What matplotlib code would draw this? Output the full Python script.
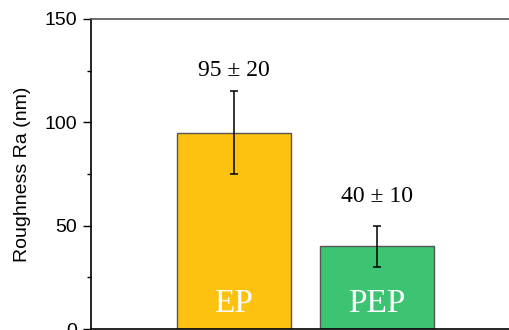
import numpy as np
import matplotlib.pyplot as plt

# data
samples = ['EP', 'PEP']
roughness = [95, 40]
roughness_err = [20, 10]
bar_colors = ['#FDC210', '#3CC473']

plt.rcParams['font.family'] = ['Liberation Sans', 'DejaVu Sans']

fig = plt.figure(figsize=(5.1, 3.3), dpi=100)
# axes runs slightly past the right and bottom edges like the cropped original
ax = fig.add_axes([91 / 510, 1 / 330, 429 / 510, 310 / 330])

x = np.arange(1, len(samples) + 1)
ax.bar(x, roughness, width=0.8, color=bar_colors, edgecolor='#555555', linewidth=1.0, zorder=2)
ax.errorbar(x, roughness, yerr=roughness_err, fmt='none', ecolor='black',
            elinewidth=1.1, capsize=2.6, capthick=1.1, zorder=3)

# value labels above the error bars, sample names inside the bars
label_gap = [10, 14]
serif = ['Liberation Serif', 'DejaVu Serif']
for xi, v, e, g, name in zip(x, roughness, roughness_err, label_gap, samples):
    ax.text(xi, v + e + g, f'{v} \u00b1 {e}', ha='center', va='center',
            fontsize=17, family=serif, color='black')
    ax.text(xi, 12, name, ha='center', va='center',
            fontsize=24, family=serif, color='white')

ax.set_xlim(0, 3)
ax.set_ylim(0, 150)
ax.set_yticks([0, 50, 100, 150])
ax.set_yticks([25, 75, 125], minor=True)
ax.set_xticks([])
ax.tick_params(axis='y', which='major', length=6, width=1, labelsize=14, pad=4)
ax.tick_params(axis='y', which='minor', length=3, width=1)
ax.set_ylabel('Roughness Ra (nm)', fontsize=14, labelpad=10)

for side in ['left', 'bottom']:
    ax.spines[side].set_color('black')
    ax.spines[side].set_linewidth(1.2)
ax.spines['top'].set_color('#555555')
ax.spines['top'].set_linewidth(1.2)
ax.spines['right'].set_visible(False)

fig.savefig('out.png', dpi=100)
